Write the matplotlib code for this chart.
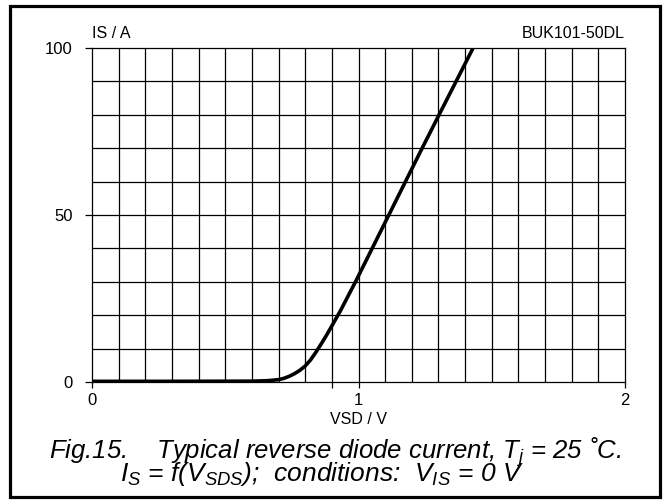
## Reverse diode current curve, datasheet style (BUK101-50DL, Fig.15)
import numpy as np
import matplotlib.pyplot as plt
from matplotlib.patches import Rectangle

plt.rcParams['font.family'] = ['Liberation Sans', 'DejaVu Sans']
plt.rcParams['mathtext.fontset'] = 'custom'
plt.rcParams['mathtext.it'] = 'Liberation Sans:italic'
plt.rcParams['mathtext.rm'] = 'Liberation Sans:italic'
plt.rcParams['mathtext.default'] = 'it'

## Values
vsd = [0.0, 0.3, 0.6, 0.66, 0.70, 0.72, 0.74, 0.76, 0.78, 0.80, 0.82,
       0.84, 0.86, 0.88, 0.90, 0.93, 0.96, 0.99, 1.05, 1.12, 1.18, 1.24,
       1.31, 1.37, 1.43]
i_s = [0.2, 0.2, 0.25, 0.4, 0.7, 1.1, 1.7, 2.5, 3.5, 4.8, 6.6,
       8.9, 11.4, 14.0, 16.8, 21.0, 25.6, 30.2, 39.8, 51.0, 60.6, 70.2,
       81.2, 90.6, 100.0]
x_ticks = [0, 1, 2]
y_ticks = [0, 50, 100]

fig = plt.figure(figsize=(6.63, 5.0), dpi=100)
ax = fig.add_axes([92/663, 118/500, 533/663, 334/500])

ax.plot(vsd, i_s, color='black', lw=2.6, solid_capstyle='round', solid_joinstyle='round', zorder=3)

ax.set_xlim(0, 2)
ax.set_ylim(0, 100)
ax.set_xticks(x_ticks)
ax.set_yticks(y_ticks)
ax.set_xticks([0.9], minor=True)  # stray tick in the original
for v in np.arange(0.1, 2.0, 0.1):
    ax.axvline(v, color='black', lw=0.9, zorder=1)
for v in np.arange(10, 100, 10):
    ax.axhline(v, color='black', lw=0.9, zorder=1)

ax.tick_params(axis='x', which='both', direction='out', length=4, width=0.9, pad=4, labelsize=12)
ax.tick_params(axis='y', direction='out', length=5, width=0.9, pad=9, labelsize=12)
ax.tick_params(axis='x', which='minor', labelbottom=False)
for s in ax.spines.values():
    s.set_linewidth(0.9)

ax.text(0, 1.022, 'IS / A', transform=ax.transAxes, ha='left', va='bottom', fontsize=11.5)
ax.text(1, 1.022, 'BUK101-50DL', transform=ax.transAxes, ha='right', va='bottom', fontsize=11.5)
ax.set_xlabel('VSD / V', fontsize=11.5, labelpad=3)

fig.text(0.505, 0.083, r'Fig.15.    Typical reverse diode current, $T_j$ = 25 ˚C.',
         ha='center', va='baseline', fontsize=18.5, style='italic')
fig.text(0.486, 0.038, r'$I_S$ = f($V_{SDS}$);  conditions:  $V_{IS}$ = 0 V',
         ha='center', va='baseline', fontsize=19, style='italic')

fig.patches.append(Rectangle((10/663, 3/500), 650/663, 491/500, transform=fig.transFigure,
                             fill=False, edgecolor='black', lw=2.3))

fig.savefig('out.png', dpi=100)
